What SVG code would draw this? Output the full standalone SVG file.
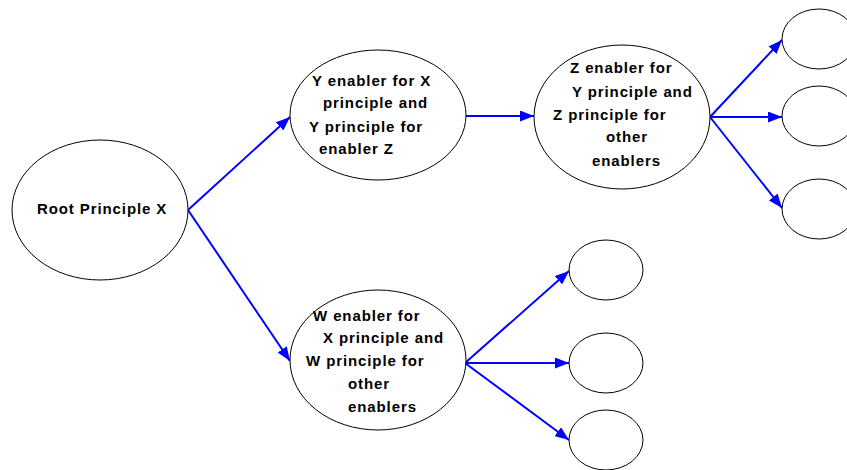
<svg xmlns="http://www.w3.org/2000/svg" width="847" height="470" viewBox="0 0 847 470">
<style>
.n{fill:#fff;stroke:#000;stroke-width:1}
.t{font-family:"Liberation Sans",Arial,sans-serif;font-weight:bold;font-size:15px;letter-spacing:0.9px;fill:#000}
.c{stroke:#0000ff;stroke-width:2;fill:none;marker-end:url(#ah)}
</style>
<defs>
<marker id="ah" viewBox="0 0 14 11" refX="14" refY="5.5" markerWidth="14" markerHeight="11" markerUnits="userSpaceOnUse" orient="auto">
<path d="M0,0 L14,5.5 L0,11 z" fill="#0000ff"/>
</marker>
</defs>
<g id="connectors">
<line class="c" x1="188" y1="210" x2="290" y2="117"/>
<line class="c" x1="188" y1="210" x2="290" y2="361"/>
<line class="c" x1="466" y1="116" x2="534" y2="116"/>
<line class="c" x1="710" y1="117" x2="782" y2="40"/>
<line class="c" x1="710" y1="117" x2="782" y2="117"/>
<line class="c" x1="710" y1="117" x2="782" y2="208"/>
<line class="c" x1="465" y1="363" x2="569" y2="271"/>
<line class="c" x1="465" y1="363" x2="569" y2="363"/>
<line class="c" x1="465" y1="363" x2="569" y2="440"/>
</g>
<g id="root">
<ellipse class="n" cx="100" cy="210" rx="88" ry="70"/>
<text class="t" x="37" y="214">Root Principle X</text>
</g>
<g id="y">
<ellipse class="n" cx="378" cy="115" rx="88" ry="65"/>
<text class="t"><tspan x="312" y="86">Y enabler for X</tspan><tspan x="323" y="108">principle and</tspan><tspan x="309" y="132">Y principle for</tspan><tspan x="319" y="154">enabler Z</tspan></text>
</g>
<g id="z">
<ellipse class="n" cx="622" cy="117" rx="88" ry="72"/>
<text class="t"><tspan x="570" y="73">Z enabler for</tspan><tspan x="572" y="97">Y principle and</tspan><tspan x="553" y="120">Z principle for</tspan><tspan x="606" y="142">other</tspan><tspan x="592" y="166">enablers</tspan></text>
</g>
<g id="w">
<ellipse class="n" cx="378" cy="360" rx="88" ry="70"/>
<text class="t"><tspan x="313" y="321">W enabler for</tspan><tspan x="323" y="343">X principle and</tspan><tspan x="306" y="366">W principle for</tspan><tspan x="348" y="389">other</tspan><tspan x="348" y="412">enablers</tspan></text>
</g>
<g id="z1"><ellipse class="n" cx="819" cy="39" rx="37" ry="30"/></g>
<g id="z2"><ellipse class="n" cx="819" cy="116" rx="37" ry="30"/></g>
<g id="z3"><ellipse class="n" cx="819" cy="209" rx="37" ry="30"/></g>
<g id="w1"><ellipse class="n" cx="606" cy="270" rx="37" ry="30"/></g>
<g id="w2"><ellipse class="n" cx="606" cy="363" rx="37" ry="30"/></g>
<g id="w3"><ellipse class="n" cx="606" cy="440" rx="37" ry="30"/></g>
</svg>
